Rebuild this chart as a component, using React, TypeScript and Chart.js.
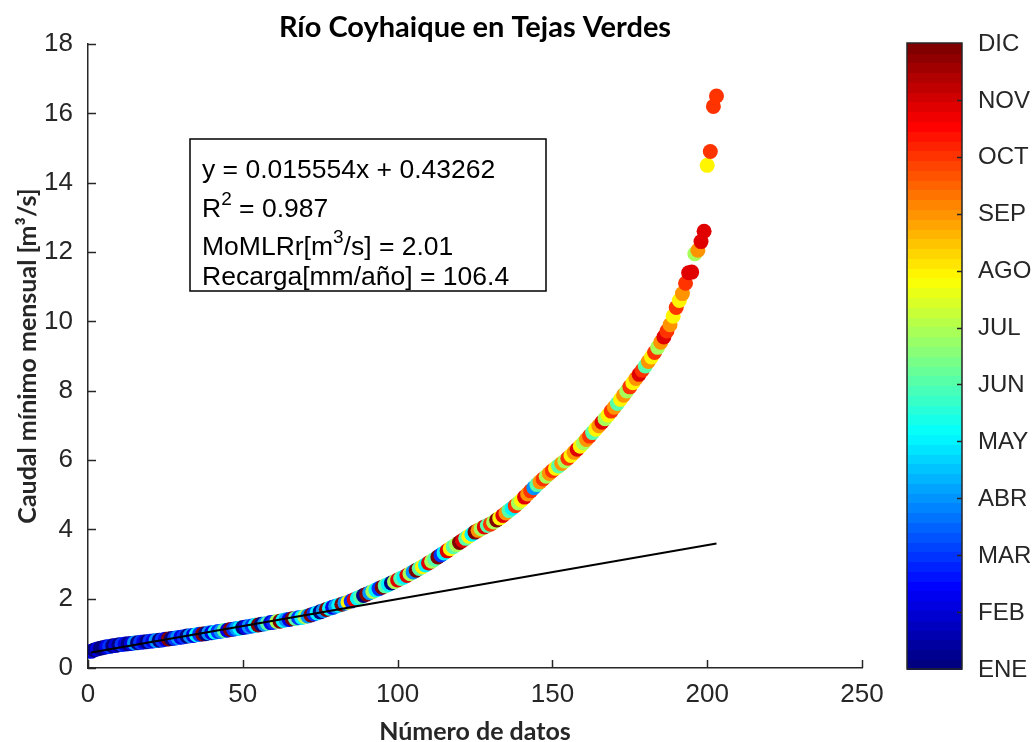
import React, { useEffect, useRef } from "react";
import { Chart, registerables } from "chart.js";

Chart.register(...registerables);

const TITLE = "Río Coyhaique en Tejas Verdes";
const X_TITLE = "Número de datos";
const Y_TITLE = "Caudal mínimo mensual [m³/s]";
const MONTH_LABELS = ["ENE", "FEB", "MAR", "ABR", "MAY", "JUN", "JUL", "AGO", "SEP", "OCT", "NOV", "DIC"];

// Sorted monthly minimum flows (m3/s)
const CAUDAL = [
  0.48, 0.52, 0.55, 0.57, 0.59, 0.61, 0.62, 0.64, 0.65, 0.67,
  0.68, 0.69, 0.70, 0.71, 0.72, 0.73, 0.74, 0.75, 0.76, 0.77,
  0.78, 0.79, 0.80, 0.81, 0.83, 0.84, 0.85, 0.86, 0.88, 0.89,
  0.90, 0.92, 0.93, 0.94, 0.96, 0.97, 0.98, 0.99, 1.01, 1.02,
  1.03, 1.05, 1.06, 1.08, 1.09, 1.11, 1.12, 1.14, 1.15, 1.17,
  1.18, 1.20, 1.21, 1.23, 1.24, 1.26, 1.27, 1.29, 1.31, 1.32,
  1.34, 1.35, 1.37, 1.39, 1.40, 1.42, 1.43, 1.45, 1.46, 1.48,
  1.50, 1.53, 1.56, 1.59, 1.62, 1.65, 1.69, 1.72, 1.75, 1.78,
  1.81, 1.84, 1.87, 1.90, 1.93, 1.97, 2.01, 2.05, 2.09, 2.13,
  2.17, 2.21, 2.25, 2.29, 2.33, 2.37, 2.41, 2.45, 2.49, 2.54,
  2.58, 2.62, 2.67, 2.72, 2.77, 2.82, 2.87, 2.92, 2.97, 3.03,
  3.08, 3.14, 3.20, 3.26, 3.32, 3.38, 3.44, 3.50, 3.56, 3.62,
  3.68, 3.74, 3.80, 3.86, 3.92, 3.97, 4.02, 4.07, 4.11, 4.15,
  4.21, 4.27, 4.33, 4.40, 4.47, 4.54, 4.61, 4.68, 4.76, 4.84,
  4.93, 5.02, 5.11, 5.20, 5.29, 5.37, 5.45, 5.53, 5.61, 5.69,
  5.76, 5.83, 5.90, 5.97, 6.05, 6.13, 6.22, 6.31, 6.40, 6.49,
  6.59, 6.69, 6.79, 6.89, 6.99, 7.09, 7.19, 7.30, 7.41, 7.52,
  7.63, 7.75, 7.87, 7.99, 8.11, 8.23, 8.35, 8.47, 8.59, 8.71,
  8.84, 8.97, 9.10, 9.25, 9.40, 9.55, 9.72, 9.90, 10.15, 10.40,
  10.60, 10.80, 11.10, 11.40, 11.42, 11.95, 12.05, 12.30, 12.60, 14.50,
  14.90, 16.20, 16.50,
];

// Month (1 = ENE ... 12 = DIC) of each value
const MES = [
  2, 1, 2, 1, 1, 2, 3, 1, 2, 1, 3, 2, 1, 2, 4, 1, 3, 2, 1, 3,
  2, 4, 1, 3, 2, 12, 1, 3, 4, 2, 3, 1, 4, 2, 5, 3, 12, 1, 4, 2,
  5, 3, 4, 6, 2, 12, 3, 4, 5, 1, 2, 4, 3, 5, 12, 1, 4, 6, 2, 3,
  7, 12, 5, 4, 2, 12, 6, 3, 5, 7, 4, 12, 3, 5, 1, 4, 12, 5, 2, 4,
  5, 12, 4, 8, 3, 11, 5, 6, 1, 12, 4, 7, 5, 3, 12, 6, 5, 1, 7, 11,
  6, 5, 11, 7, 4, 12, 6, 8, 5, 11, 7, 6, 12, 3, 5, 11, 8, 6, 7, 12,
  11, 6, 8, 5, 12, 9, 7, 11, 6, 10, 7, 12, 8, 11, 9, 6, 5, 10, 7, 8,
  11, 9, 10, 4, 6, 9, 10, 7, 9, 10,
  8, 6, 9, 7, 10, 8, 9, 11, 8, 7, 9, 10, 6, 8, 9, 11, 7, 8, 10, 9,
  6, 8, 9, 7, 10, 8, 9, 11, 10, 6, 9, 8, 10, 7, 9, 11, 10, 9, 8, 10,
  8, 9, 10, 11, 11, 7, 9, 11, 11, 8, 10, 10, 10,
];

const FIT_SLOPE = 0.015554;
const FIT_INTERCEPT = 0.43262;
const FIT_X = [1, 203];

const X_TICKS = [0, 50, 100, 150, 200, 250];
const Y_TICKS = [0, 2, 4, 6, 8, 10, 12, 14, 16, 18];

type Part = { text: string; sup?: boolean };
const ANNOTATION: Part[][] = [
  [{ text: "y = 0.015554x + 0.43262" }],
  [{ text: "R" }, { text: "2", sup: true }, { text: " = 0.987" }],
  [{ text: "MoMLRr[m" }, { text: "3", sup: true }, { text: "/s] = 2.01" }],
  [{ text: "Recarga[mm/año] = 106.4" }],
];

const AXIS_COLOR = "#262626";
const SANS = "'Liberation Sans', Arial, sans-serif";
const TITLE_FONT = "Lato, 'Open Sans', sans-serif";
const JET_LEVELS = 64;

function jet(t: number): string {
  const c = (v: number) => Math.round(255 * Math.min(1, Math.max(0, v)));
  const r = 1.5 - Math.abs(4 * t - 3);
  const g = 1.5 - Math.abs(4 * t - 2);
  const b = 1.5 - Math.abs(4 * t - 1);
  return `rgb(${c(r)},${c(g)},${c(b)})`;
}

function monthColor(m: number): string {
  const idx = Math.round(((m - 1) / 11) * (JET_LEVELS - 1));
  return jet(idx / (JET_LEVELS - 1));
}

const decorPlugin = {
  id: "decor",
  afterDraw(chart: any) {
    const { ctx, chartArea, scales } = chart;
    const xs = scales.x;
    const ys = scales.y;
    ctx.save();
    // inward ticks
    ctx.strokeStyle = AXIS_COLOR;
    ctx.lineWidth = 1.5;
    const tl = 8;
    for (const v of X_TICKS) {
      const px = Math.round(xs.getPixelForValue(v)) + 0.5;
      ctx.beginPath();
      ctx.moveTo(px, chartArea.bottom);
      ctx.lineTo(px, chartArea.bottom - tl);
      ctx.stroke();
    }
    for (const v of Y_TICKS) {
      const py = Math.round(ys.getPixelForValue(v)) + 0.5;
      ctx.beginPath();
      ctx.moveTo(chartArea.left, py);
      ctx.lineTo(chartArea.left + tl, py);
      ctx.stroke();
    }

    // annotation box
    const bx = chartArea.left + 102;
    const by = chartArea.top + 95;
    const bw = 356;
    const bh = 152;
    ctx.fillStyle = "#fff";
    ctx.fillRect(bx, by, bw, bh);
    ctx.strokeStyle = "#000";
    ctx.lineWidth = 1.5;
    ctx.strokeRect(bx, by, bw, bh);
    const fs = 26.5;
    const lineCenters = [29, 68, 106, 136];
    ctx.fillStyle = "#000";
    ctx.textBaseline = "alphabetic";
    ctx.textAlign = "left";
    ANNOTATION.forEach((parts, i) => {
      let x = bx + 12;
      const base = by + lineCenters[i] + fs * 0.36;
      for (const p of parts) {
        if (p.sup) {
          ctx.font = `${Math.round(fs * 0.7)}px ${SANS}`;
          ctx.fillText(p.text, x, base - fs * 0.45);
        } else {
          ctx.font = `${fs}px ${SANS}`;
          ctx.fillText(p.text, x, base);
        }
        x += ctx.measureText(p.text).width;
      }
    });

    // colorbar
    const cbL = chartArea.right + 45;
    const cbW = 55;
    const cbT = chartArea.top - 1;
    const cbB = chartArea.bottom + 1;
    const h = (cbB - cbT) / JET_LEVELS;
    for (let i = 0; i < JET_LEVELS; i++) {
      ctx.fillStyle = jet(i / (JET_LEVELS - 1));
      const y0 = cbB - (i + 1) * h;
      ctx.fillRect(cbL, Math.floor(y0), cbW, Math.ceil(h) + 1);
    }
    ctx.strokeStyle = AXIS_COLOR;
    ctx.lineWidth = 1.5;
    ctx.strokeRect(cbL, cbT, cbW, cbB - cbT);
    ctx.font = `24px ${SANS}`;
    ctx.fillStyle = AXIS_COLOR;
    ctx.textBaseline = "middle";
    MONTH_LABELS.forEach((lab, i) => {
      const y = cbB - (i / 11) * (cbB - cbT);
      if (i > 0 && i < 11) {
        ctx.beginPath();
        ctx.moveTo(cbL + cbW, Math.round(y) + 0.5);
        ctx.lineTo(cbL + cbW - 5, Math.round(y) + 0.5);
        ctx.stroke();
      }
      ctx.fillText(lab, cbL + cbW + 16, y + 1);
    });
    ctx.restore();
  },
};

export default function App() {
  const ref = useRef<HTMLCanvasElement | null>(null);

  useEffect(() => {
    if (!ref.current) return;
    const points = CAUDAL.map((v, i) => ({ x: i + 1, y: v }));
    const colors = MES.map((m) => monthColor(m));
    const fit = FIT_X.map((x) => ({ x, y: FIT_SLOPE * x + FIT_INTERCEPT }));

    const chart = new Chart(ref.current, {
      type: "scatter",
      data: {
        datasets: [
          {
            data: points,
            pointRadius: 7.5,
            pointHoverRadius: 7.5,
            pointBorderWidth: 0,
            pointBackgroundColor: colors,
            pointBorderColor: colors,
            showLine: false,
            order: 2,
          },
          {
            type: "line",
            data: fit,
            borderColor: "#000",
            borderWidth: 2,
            pointRadius: 0,
            fill: false,
            order: 1,
          },
        ],
      } as any,
      options: {
        animation: false,
        responsive: false,
        maintainAspectRatio: false,
        layout: { padding: { left: 0, right: 173, top: 0, bottom: 0 } },
        plugins: {
          legend: { display: false },
          tooltip: { enabled: false },
          title: {
            display: true,
            text: TITLE,
            fullSize: false,
            color: "#000",
            font: { family: TITLE_FONT, weight: "bold", size: 29, lineHeight: 1.0 },
            padding: { top: 13, bottom: 2 },
          },
        },
        scales: {
          x: {
            type: "linear",
            min: 0,
            max: 250,
            afterBuildTicks: (s: any) => {
              s.ticks = X_TICKS.map((v) => ({ value: v }));
            },
            afterFit: (s: any) => {
              s.height = 74;
            },
            ticks: { color: AXIS_COLOR, font: { family: SANS, size: 26 }, padding: 11, maxRotation: 0 },
            grid: { display: false, drawTicks: false, tickLength: 0 },
            border: { display: true, color: AXIS_COLOR, width: 1.5 },
            title: {
              display: true,
              text: X_TITLE,
              color: AXIS_COLOR,
              font: { family: TITLE_FONT, weight: "bold", size: 25, lineHeight: 0.8 },
              padding: { top: 0, bottom: 0 },
            },
          },
          y: {
            type: "linear",
            min: 0,
            max: 18,
            afterBuildTicks: (s: any) => {
              s.ticks = Y_TICKS.map((v) => ({ value: v }));
            },
            afterFit: (s: any) => {
              s.width = 88;
            },
            ticks: { color: AXIS_COLOR, font: { family: SANS, size: 26 }, padding: 15 },
            grid: { display: false, drawTicks: false, tickLength: 0 },
            border: { display: true, color: AXIS_COLOR, width: 1.5 },
            title: {
              display: true,
              text: Y_TITLE,
              color: AXIS_COLOR,
              font: { family: TITLE_FONT, weight: "bold", size: 25, lineHeight: 1.2 },
              padding: { top: 13, bottom: 0 },
            },
          },
        },
      },
      plugins: [decorPlugin],
    } as any);

    return () => chart.destroy();
  }, []);

  return (
    <div style={{ position: "fixed", left: 0, top: 0, width: 1035, height: 742, background: "#fff" }}>
      <canvas ref={ref} width={1035} height={742} style={{ display: "block", width: 1035, height: 742 }} />
    </div>
  );
}
